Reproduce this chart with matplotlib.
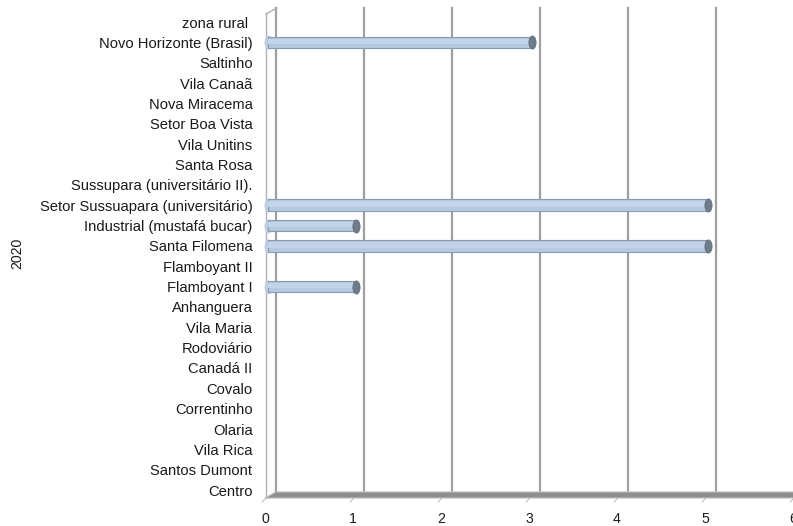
import matplotlib
matplotlib.use("Agg")
import matplotlib.pyplot as plt
import matplotlib.transforms as mtrans
from matplotlib.path import Path
from matplotlib.markers import MarkerStyle
from matplotlib.patches import Polygon

# Neighbourhoods, listed from top to bottom
bairros = [
    "zona rural ", "Novo Horizonte (Brasil)", "Saltinho", "Vila Canaã",
    "Nova Miracema", "Setor Boa Vista", "Vila Unitins", "Santa Rosa",
    "Sussupara (universitário II).", "Setor Sussuapara (universitário)",
    "Industrial (mustafá bucar)", "Santa Filomena", "Flamboyant II",
    "Flamboyant I", "Anhanguera", "Vila Maria", "Rodoviário", "Canadá II",
    "Covalo", "Correntinho", "Olaria", "Vila Rica", "Santos Dumont", "Centro",
]
casos = [0, 3, 0, 0, 0, 0, 0, 0, 0, 5, 1, 5, 0, 1, 0, 0, 0, 0, 0, 0, 0, 0, 0, 0]
x_ticks = [0, 1, 2, 3, 4, 5, 6]
ano = "2020"

W, H = 793, 526
fig = plt.figure(figsize=(W / 100, H / 100), dpi=100)
plt.rcParams["font.family"] = ["Liberation Sans", "DejaVu Sans"]

ax_left, ax_right = 265, 793
ax_top, ax_bot = 8, 498
ax = fig.add_axes([ax_left / W, (H - ax_bot) / H, (ax_right - ax_left) / W, (ax_bot - ax_top) / H])

n = len(bairros)
ypos = list(range(n - 1, -1, -1))
ax.set_xlim(0, 6)
ax.set_ylim(-0.39, n - 1 + 0.69)

def px(dx, dy):
    return mtrans.ScaledTranslation(dx / 100, dy / 100, fig.dpi_scale_trans)

blend = mtrans.blended_transform_factory(ax.transData, ax.transAxes)
floor_back = (ax_bot - 492) / (ax_bot - ax_top)

# back wall gridlines (depth offset)
for v in x_ticks:
    ax.plot([v, v], [floor_back, 1.0], color="#a0a0a0", lw=1.6,
            transform=blend + px(11, 0), clip_on=False, zorder=1)

# left wall edge
ax.plot([0, 0], [0, 1 - 6 / 490], color="#b0b0b0", lw=1.0,
        transform=blend + px(1, 0), clip_on=False, zorder=1)
ax.plot([0, 11 / 88], [1 - 6 / 490, 1.0], color="#b0b0b0", lw=1.0,
        transform=blend + px(1, 0), clip_on=False, zorder=1)

# floor band
floor = Polygon([(0, 0), (11 / 88, floor_back), (6.2, floor_back), (6.2, 0)],
                closed=True, transform=blend, facecolor="#8e8e8e",
                edgecolor="#bcbcbc", lw=0.8, clip_on=False, zorder=2)
ax.add_patch(floor)
for v in x_ticks:
    ax.plot([v, v - 4 / 88], [0, -4 / 490], color="#bcbcbc", lw=0.8,
            transform=blend + px(1, 0), clip_on=False, zorder=2)

# cylinder-like bars
off = px(3, 0)
bar_h = 0.56
for y, v in zip(ypos, casos):
    if v <= 0:
        continue
    ax.barh(y, v, height=bar_h, color="#b5c9e0", edgecolor="#8a9aad", lw=0.8,
            transform=ax.transData + off, zorder=3)
    ax.barh(y + 0.05, v, height=bar_h * 0.5, color="#c3d4e9", lw=0,
            transform=ax.transData + off, zorder=4)

cap_path = Path.unit_circle().transformed(mtrans.Affine2D().scale(0.55, 1.0))
cap = MarkerStyle(cap_path)
ends_x = [v for v in casos if v > 0]
ends_y = [y for y, v in zip(ypos, casos) if v > 0]
ax.scatter(ends_x, ends_y, marker=cap, s=90, color="#6e7c8c", edgecolors="#5c6878",
           lw=0.5, transform=ax.transData + off, zorder=5, clip_on=False)
ax.scatter([0] * len(ends_y), ends_y, marker=cap, s=90, color="#bfcfe3",
           edgecolors="#bfcfe3", lw=0.5, transform=ax.transData + off, zorder=2.5,
           clip_on=False)

for s in ax.spines.values():
    s.set_visible(False)
ax.set_yticks(ypos)
ax.set_yticklabels(bairros, fontsize=10.6, color="#1a1a1a")
ax.set_xticks(x_ticks)
ax.set_xticklabels([str(t) for t in x_ticks], fontsize=10.2, color="#1a1a1a")
ax.tick_params(axis="y", length=0, pad=9)
ax.tick_params(axis="x", length=0, pad=10)
ax.set_ylabel(ano, fontsize=10.2, color="#1a1a1a")
ax.yaxis.set_label_coords((24 - 265) / 528, 0.5)

fig.savefig("out.png", dpi=100)
